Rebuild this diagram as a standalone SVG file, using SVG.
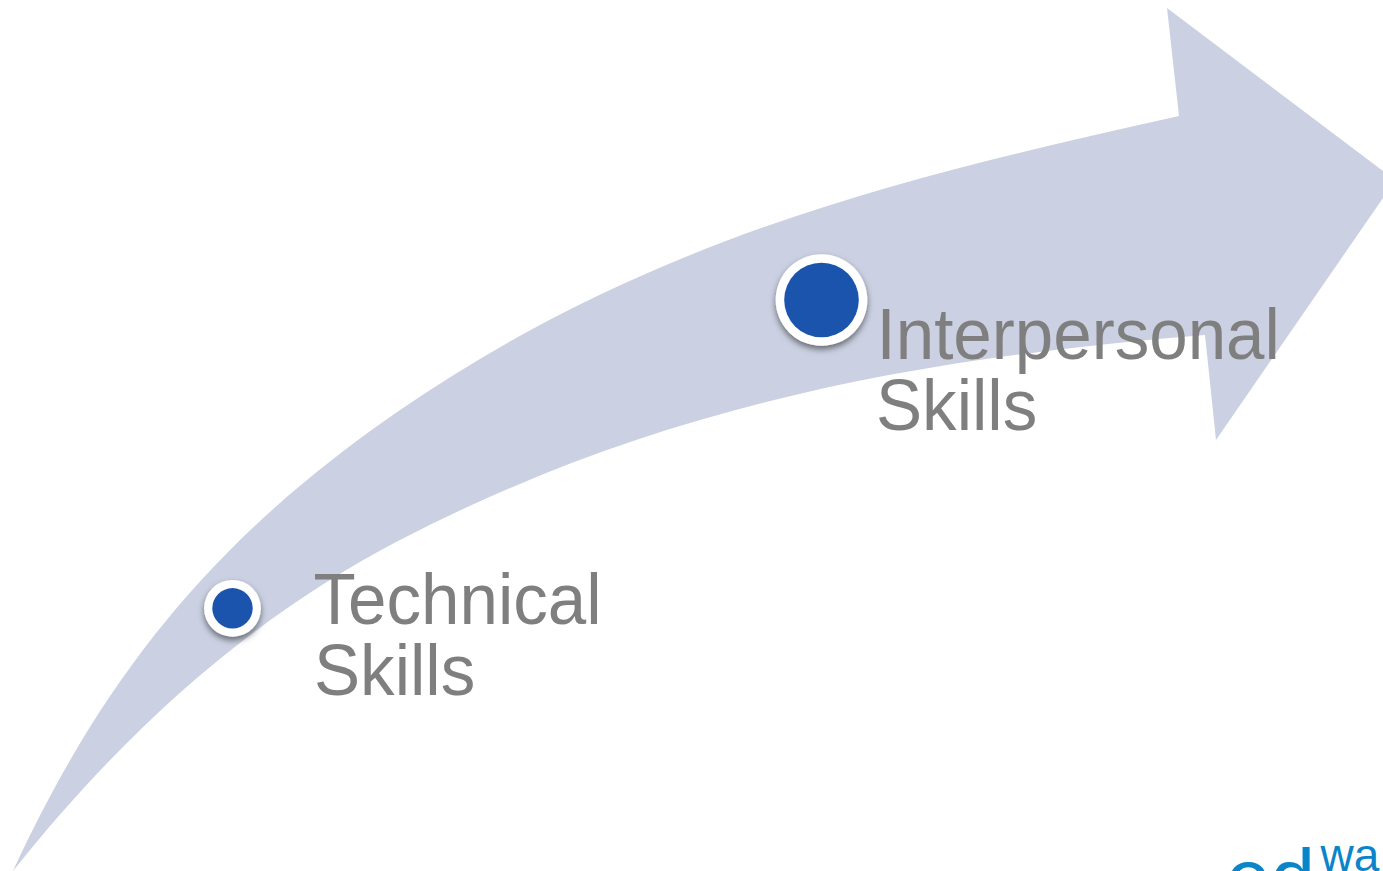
<svg xmlns="http://www.w3.org/2000/svg" width="1383" height="871" viewBox="0 0 1383 871">
<defs>
<filter id="sh" x="-30%" y="-30%" width="160%" height="170%"><feDropShadow dx="0" dy="3.500" stdDeviation="3" flood-color="#000" flood-opacity="0.5"/></filter>
<style>
.lbl{font-family:"Liberation Sans",Arial,sans-serif;font-size:72px;fill:#7f7f7f}
.logo{font-family:"Liberation Sans",Arial,sans-serif;fill:#0a85c9}
.ring{fill:#fff;filter:url(#sh)}
.dot{fill:#1a54ac}
</style>
</defs>
<rect width="1383" height="871" fill="#fff"/>
<g id="arrow"><path fill="#cbd1e2" d="M13 871C110 660 230 527 400 410C660 231 930 172 1179 116L1167 8L1383 171V198L1216 440L1205 335C935 357 670 400 400 540C270 608 143 708 13 871Z"/></g>
<g id="technical"><circle class="ring" cx="232.500" cy="608.300" r="28.400"/><circle class="dot" cx="232.500" cy="608.300" r="20.200"/>
<text class="lbl" transform="translate(313.500 624) scale(.96 1)">Technical</text><text class="lbl" transform="translate(314 695) scale(.96 1)">Skills</text></g>
<g id="interpersonal"><circle class="ring" cx="821.500" cy="300" r="45.800"/><circle class="dot" cx="821.500" cy="300" r="37.300"/>
<text class="lbl" transform="translate(876.500 359) scale(.96 1)">Interpersonal</text><text class="lbl" transform="translate(876 430) scale(.96 1)">Skills</text></g>
<g id="logo"><text class="logo" x="1226" y="905" font-size="80">ed</text><text class="logo" x="1320.500" y="871" font-size="46">wa</text></g>
</svg>
